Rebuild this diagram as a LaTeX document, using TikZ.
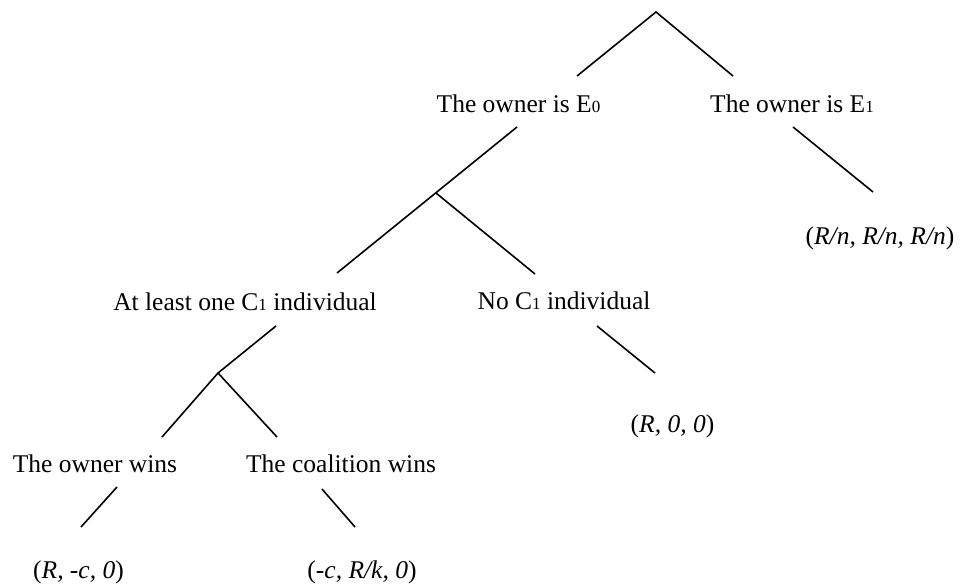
\documentclass[tikz,border=0pt]{standalone}
\usepackage{fontspec}
\setmainfont{Liberation Serif}
\newcommand{\subidx}[1]{{\fontsize{17}{17}\selectfont #1}}
\begin{document}
\begin{tikzpicture}[x=1pt, y=-1pt,
  lbl/.style={anchor=base, inner sep=0pt, font=\fontsize{25.5}{30}\selectfont},
  edge/.style={line width=1.6pt}]
  \useasboundingbox (0,0) rectangle (960,586);
  % labels
  \node[lbl] (e0) at (518.5,112) {The owner is E\subidx{0}};
  \node[lbl] (e1) at (792,112)   {The owner is E\subidx{1}};
  \node[lbl] (c1) at (245,310)   {At least one C\subidx{1} individual};
  \node[lbl] (nc) at (564,309)   {No C\subidx{1} individual};
  \node[lbl] (ow) at (95,472)    {The owner wins};
  \node[lbl] (cw) at (341,472)   {The coalition wins};
  % payoffs
  \node[lbl] (p1) at (880,244)   {(\textit{R/n, R/n, R/n})};
  \node[lbl] (p2) at (672.5,432) {(\textit{R, 0, 0})};
  \node[lbl] (p3) at (78.5,578)  {(\textit{R, -c, 0})};
  \node[lbl] (p4) at (362,578)   {(\textit{-c, R/k, 0})};
  % line ends
  \coordinate (root)   at (656,12);
  \coordinate (e0-in)  at (577,76);
  \coordinate (e1-in)  at (733,76);
  \coordinate (e0-out) at (517,127);
  \coordinate (j0)     at (436,193);
  \coordinate (c1-in)  at (337,273);
  \coordinate (nc-in)  at (535,274);
  \coordinate (e1-out) at (793,127);
  \coordinate (p1-in)  at (873,192);
  \coordinate (c1-out) at (276,326);
  \coordinate (j1)     at (218,373);
  \coordinate (ow-in)  at (162,437);
  \coordinate (cw-in)  at (277,437);
  \coordinate (nc-out) at (597,326);
  \coordinate (p2-in)  at (655,373);
  \coordinate (ow-out) at (117,487);
  \coordinate (p3-in)  at (81,527);
  \coordinate (cw-out) at (322,489);
  \coordinate (p4-in)  at (355,527);
  % tree
  \draw[edge] (e0-in) -- (root) -- (e1-in);
  \draw[edge] (e0-out) -- (c1-in);
  \draw[edge] (j0) -- (nc-in);
  \draw[edge] (e1-out) -- (p1-in);
  \draw[edge] (c1-out) -- (j1) -- (ow-in);
  \draw[edge] (j1) -- (cw-in);
  \draw[edge] (nc-out) -- (p2-in);
  \draw[edge] (ow-out) -- (p3-in);
  \draw[edge] (cw-out) -- (p4-in);
\end{tikzpicture}
\end{document}
